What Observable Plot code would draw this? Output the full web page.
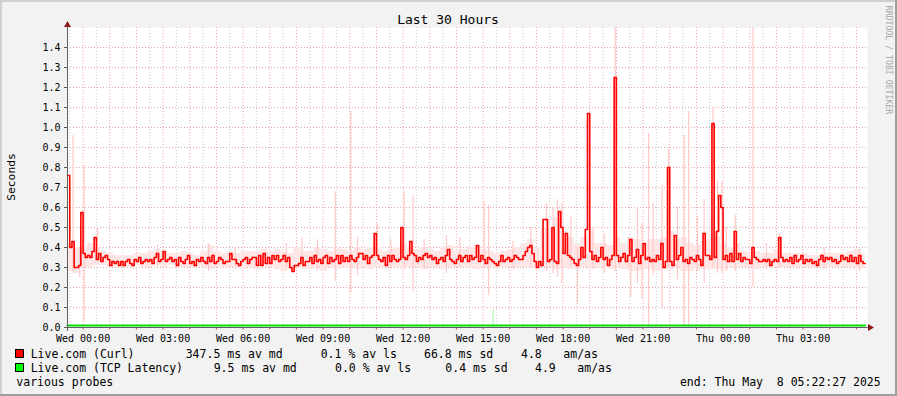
<!DOCTYPE html>
<html><head><meta charset="utf-8">
<script src="https://cdn.jsdelivr.net/npm/d3@7"></script>
<script src="https://cdn.jsdelivr.net/npm/@observablehq/plot@0.6"></script>
<style>
html,body{margin:0;padding:0;background:#f2f2f2;}
#chart{position:relative;width:897px;height:396px;overflow:hidden;}
</style></head><body><div id="chart"></div>
<script>
// ---------- text ----------
const title = "Last 30 Hours";
const yLabel = "Seconds";
const credit = "RRDTOOL / TOBI OETIKER";
const footLeft = "various probes";
const footRight = "end: Thu May  8 05:22:27 2025";

// ---------- legend ----------
const seriesNames = ["Live.com (Curl)", "Live.com (TCP Latency)"];
const seriesColors = ["#ff0000", "#00ff00"];
const statMedian = ["347.5 ms av md", "9.5 ms av md"];
const statLoss = ["0.1 % av ls", "0.0 % av ls"];
const statSd = ["66.8 ms sd", "0.4 ms sd"];
const statAmAs = ["4.8", "4.9"];

// ---------- axes ----------
const startUTC = "2025-05-06T23:25:00Z";
const endUTC = "2025-05-08T05:25:00Z";
const xTickTimes = ["2025-05-07T00:00:00Z","2025-05-07T03:00:00Z","2025-05-07T06:00:00Z","2025-05-07T09:00:00Z","2025-05-07T12:00:00Z","2025-05-07T15:00:00Z","2025-05-07T18:00:00Z","2025-05-07T21:00:00Z","2025-05-08T00:00:00Z","2025-05-08T03:00:00Z"];
const xTickLabels = ["Wed 00:00","Wed 03:00","Wed 06:00","Wed 09:00","Wed 12:00","Wed 15:00","Wed 18:00","Wed 21:00","Thu 00:00","Thu 03:00"];
const yTicks = [0.0,0.1,0.2,0.3,0.4,0.5,0.6,0.7,0.8,0.9,1.0,1.1,1.2,1.3,1.4];

// ---------- data: Live.com (Curl) median, seconds, one value per 5 minutes ----------
const curlMedian = [
0.76,0.40,0.43,0.30,0.30,0.31,0.575,0.37,0.35,0.36,0.35,0.38,
0.45,0.34,0.37,0.33,0.35,0.36,0.34,0.31,0.33,0.32,0.33,0.31,
0.33,0.31,0.33,0.34,0.32,0.31,0.34,0.33,0.35,0.32,0.33,0.34,
0.33,0.34,0.32,0.35,0.37,0.33,0.34,0.38,0.33,0.34,0.35,0.33,
0.34,0.31,0.35,0.33,0.32,0.34,0.36,0.32,0.33,0.31,0.34,0.33,
0.35,0.33,0.32,0.35,0.33,0.36,0.32,0.33,0.35,0.34,0.32,0.33,
0.33,0.37,0.34,0.34,0.32,0.31,0.33,0.34,0.35,0.32,0.34,0.35,
0.35,0.31,0.36,0.31,0.37,0.32,0.35,0.32,0.36,0.34,0.36,0.33,
0.34,0.36,0.33,0.35,0.30,0.28,0.31,0.31,0.32,0.35,0.31,0.33,
0.33,0.35,0.32,0.36,0.33,0.34,0.32,0.35,0.36,0.32,0.35,0.33,
0.34,0.36,0.32,0.36,0.33,0.35,0.33,0.36,0.34,0.33,0.35,0.37,
0.37,0.34,0.36,0.32,0.35,0.36,0.47,0.36,0.34,0.33,0.35,0.31,
0.36,0.33,0.36,0.34,0.33,0.34,0.50,0.35,0.34,0.36,0.43,0.37,
0.36,0.33,0.35,0.34,0.36,0.37,0.35,0.36,0.34,0.35,0.32,0.34,
0.35,0.33,0.36,0.39,0.34,0.33,0.32,0.34,0.36,0.33,0.35,0.36,
0.33,0.36,0.34,0.35,0.41,0.33,0.36,0.34,0.32,0.35,0.34,0.33,
0.32,0.31,0.33,0.36,0.33,0.34,0.35,0.33,0.34,0.36,0.35,0.34,
0.34,0.36,0.38,0.40,0.41,0.37,0.33,0.30,0.33,0.31,0.54,0.54,
0.33,0.34,0.50,0.33,0.32,0.58,0.50,0.37,0.47,0.36,0.35,0.34,
0.32,0.31,0.34,0.40,0.35,0.49,1.07,0.38,0.34,0.36,0.33,0.35,
0.40,0.34,0.35,0.31,0.34,0.36,1.25,0.36,0.33,0.35,0.37,0.33,
0.36,0.44,0.33,0.35,0.39,0.32,0.36,0.42,0.34,0.35,0.33,0.34,
0.33,0.36,0.34,0.42,0.30,0.33,0.80,0.33,0.31,0.46,0.34,0.36,
0.40,0.33,0.34,0.32,0.35,0.34,0.33,0.36,0.34,0.31,0.47,0.36,
0.36,0.34,1.02,0.35,0.48,0.66,0.60,0.34,0.36,0.33,0.37,0.33,
0.48,0.34,0.37,0.33,0.35,0.34,0.34,0.32,0.40,0.35,0.34,0.33,
0.33,0.34,0.33,0.34,0.31,0.33,0.34,0.33,0.45,0.35,0.33,0.34,
0.33,0.35,0.32,0.36,0.33,0.34,0.36,0.32,0.34,0.33,0.34,0.32,
0.33,0.31,0.34,0.36,0.33,0.35,0.34,0.35,0.33,0.34,0.32,0.33,
0.36,0.34,0.35,0.33,0.36,0.33,0.35,0.32,0.36,0.33,0.32
];

// smoke band (low / high ping), one value per 15 minutes
const smokeLo = [
0.28,0.27,0.30,0.30, 0.31,0.31,0.30,0.30, 0.30,0.30,0.31,0.30, 0.30,0.31,0.30,0.31,
0.30,0.30,0.30,0.30, 0.30,0.29,0.30,0.30, 0.30,0.30,0.29,0.30, 0.29,0.30,0.30,0.29,
0.28,0.29,0.30,0.29, 0.29,0.30,0.28,0.30, 0.29,0.30,0.30,0.29, 0.30,0.29,0.30,0.30,
0.30,0.30,0.29,0.30, 0.30,0.29,0.30,0.30, 0.29,0.30,0.30,0.30, 0.30,0.29,0.30,0.30,
0.29,0.30,0.30,0.30, 0.30,0.30,0.29,0.30, 0.30,0.29,0.30,0.29, 0.29,0.30,0.29,0.30,
0.30,0.29,0.30,0.29, 0.28,0.28,0.29,0.29, 0.28,0.29,0.29,0.30, 0.28,0.28,0.29,0.29,
0.29,0.29,0.29,0.30, 0.30,0.30,0.30,0.29, 0.30,0.30,0.30,0.30, 0.30,0.30,0.30,0.30,
0.30,0.30,0.30,0.30, 0.30,0.30,0.29,0.30
];
const smokeHi = [
0.42,0.40,0.40,0.42, 0.40,0.38,0.37,0.36, 0.36,0.36,0.37,0.37, 0.38,0.39,0.38,0.37,
0.37,0.38,0.37,0.36, 0.38,0.41,0.38,0.37, 0.38,0.37,0.38,0.38, 0.38,0.39,0.38,0.39,
0.38,0.37,0.40,0.38, 0.38,0.40,0.39,0.38, 0.40,0.39,0.38,0.40, 0.39,0.40,0.40,0.38,
0.39,0.40,0.42,0.40, 0.39,0.40,0.39,0.38, 0.40,0.41,0.38,0.39, 0.40,0.41,0.39,0.38,
0.37,0.38,0.39,0.40, 0.42,0.44,0.40,0.50, 0.50,0.55,0.48,0.45, 0.42,0.45,0.48,0.42,
0.42,0.41,0.45,0.42, 0.45,0.44,0.42,0.44, 0.44,0.45,0.48,0.44, 0.45,0.42,0.41,0.43,
0.44,0.45,0.42,0.40, 0.42,0.38,0.37,0.38, 0.37,0.37,0.39,0.37, 0.37,0.37,0.37,0.36,
0.36,0.37,0.37,0.37, 0.37,0.38,0.39,0.37
];
// individual tall smoke streaks: [5-minute step index, low, high]
const smokeSpikes = [
[2,0.27,0.96],[5,0.25,0.40],[7,0.03,0.81],[13,0.33,0.50],[40,0.30,0.41],[63,0.28,0.42],[75,0.29,0.40],
[98,0.30,0.42],[105,0.31,0.45],[112,0.28,0.44],[120,0.23,0.68],[127,0.17,1.08],[130,0.26,0.45],
[139,0.33,0.52],[145,0.29,0.44],[151,0.30,0.68],[155,0.18,0.66],[160,0.29,0.44],[170,0.27,0.46],
[176,0.30,0.45],[187,0.30,0.63],[189,0.16,0.61],[200,0.29,0.43],[208,0.30,0.50],[215,0.28,0.62],
[218,0.27,0.60],[220,0.25,0.64],[222,0.22,0.62],[226,0.30,0.55],[229,0.12,0.40],[236,0.29,0.50],
[241,0.27,0.47],[246,0.28,1.50],[252,0.30,0.45],[253,0.15,0.44],[256,0.22,0.60],[258,0.14,0.52],
[261,0.00,0.97],[263,0.26,0.62],[267,0.09,0.71],[270,0.30,0.89],[274,0.24,0.60],[277,0.00,0.96],
[279,0.00,1.08],[283,0.28,0.55],[286,0.22,0.64],[290,0.30,1.10],[292,0.27,0.73],[294,0.27,0.73],
[296,0.28,0.50],[300,0.28,0.56],[308,0.20,1.50],[314,0.29,0.42],[320,0.30,0.47],[340,0.29,0.40],[356,0.28,0.39]
];

// ---------- data: Live.com (TCP Latency) median, seconds, one value per hour ----------
const tcpMedian = [
0.0095,0.0096,0.0095,0.0094,0.0095,0.0095,0.0096,0.0095,0.0094,0.0095,
0.0095,0.0096,0.0095,0.0095,0.0094,0.0095,0.0096,0.0095,0.0095,0.0094,
0.0095,0.0095,0.0096,0.0095,0.0095,0.0094,0.0095,0.0095,0.0096,0.0095
];
const tcpSmokeSpikes = [[191,0.010,0.090]];

// ---------- build ----------
const t0 = new Date(startUTC);
const STEP = 5 * 60000;
const at = i => new Date(+t0 + i * STEP);
const curl = curlMedian.map((v, i) => ({t: at(i), v}));
curl.push({t: at(curlMedian.length), v: curlMedian[curlMedian.length - 1]});
const tcp = tcpMedian.map((v, h) => ({t: at(h * 12), v}));
tcp.push({t: at(curlMedian.length), v: tcpMedian[tcpMedian.length - 1]});
const band = smokeLo.map((lo, k) => ({t1: at(k * 3), t2: at(Math.min(k * 3 + 3, curlMedian.length)), lo, hi: smokeHi[k]}));
const spikes = smokeSpikes.map(([i, lo, hi]) => ({t: new Date(+at(i) + STEP / 2), lo, hi}));
const tcpSpikes = tcpSmokeSpikes.map(([i, lo, hi]) => ({t: new Date(+at(i) + STEP / 2), lo, hi}));
const xDomain = [t0, new Date(endUTC)];
const hours = d3.utcHour.range(xDomain[0], xDomain[1]);
const halfHours = d3.utcMinute.every(30).range(xDomain[0], xDomain[1]).filter(d => d.getUTCMinutes() === 30);
const tickDates = xTickTimes.map(s => new Date(s));
const labelMap = new Map(tickDates.map((d, i) => [+d, xTickLabels[i]]));

const FONT = "DejaVu Sans Mono";
const chart = Plot.plot({
  width: 897, height: 396,
  marginLeft: 67, marginRight: 30, marginTop: 27, marginBottom: 69,
  style: {background: "#f2f2f2", fontFamily: FONT, fontSize: "10px", color: "#000", overflow: "visible"},
  x: {type: "utc", domain: xDomain},
  y: {type: "linear", domain: [0, 1.5]},
  marks: [
    Plot.frame({fill: "white", stroke: null}),
    Plot.ruleX(halfHours, {stroke: "#c8c8c8", strokeDasharray: "1,2"}),
    Plot.ruleX(hours, {stroke: "#f29a9a", strokeDasharray: "1,2"}),
    Plot.ruleY(yTicks.slice(1), {stroke: "#e2a4a4", strokeDasharray: "1,2"}),
    Plot.rect(band, {x1: "t1", x2: "t2", y1: "lo", y2: "hi", fill: "#ffe6e6"}),
    Plot.ruleX(spikes, {x: "t", y1: "lo", y2: "hi", stroke: "#ffc8c8", strokeWidth: 1.2}),
    Plot.ruleX(tcpSpikes, {x: "t", y1: "lo", y2: "hi", stroke: "#b8f5b8", strokeWidth: 1.3}),
    Plot.line(curl, {x: "t", y: "v", curve: "step-after", stroke: "#ff0000", strokeWidth: 1.6}),
    Plot.line(tcp, {x: "t", y: "v", curve: "step-after", stroke: "#00e000", strokeWidth: 2}),
    Plot.ruleX(hours, {y1: 0, y2: -0.012, stroke: "#c04040"}),
    Plot.axisY(yTicks, {tickSize: 3, tickPadding: 4, tickFormat: d => d.toFixed(1), stroke: "#555"}),
    Plot.axisX(tickDates, {tickSize: 0, tickPadding: 7, tickFormat: d => labelMap.get(+d)})
  ]
});
document.getElementById("chart").appendChild(chart);

// ---------- decorations ----------
const svg = d3.select(chart);
const X0 = 67, X1 = 867, Y0 = 27, Y1 = 327;
svg.append("rect").attr("x", 0).attr("y", 0).attr("width", 897).attr("height", 2).attr("fill", "#cfcfcf");
svg.append("rect").attr("x", 0).attr("y", 0).attr("width", 2).attr("height", 396).attr("fill", "#cfcfcf");
svg.append("rect").attr("x", 0).attr("y", 394).attr("width", 897).attr("height", 2).attr("fill", "#9e9e9e");
svg.append("rect").attr("x", 895).attr("y", 0).attr("width", 2).attr("height", 396).attr("fill", "#9e9e9e");
svg.append("line").attr("x1", X0 + 0.5).attr("x2", X0 + 0.5).attr("y1", 24).attr("y2", Y1 + 4).attr("stroke", "#606060");
svg.append("line").attr("x1", X0 - 3).attr("x2", X1 + 4).attr("y1", Y1 + 0.5).attr("y2", Y1 + 0.5).attr("stroke", "#606060");
svg.append("path").attr("d", `M${X0 + 0.5},21 L${X0 - 3},27 L${X0 + 4},27 Z`).attr("fill", "#8b1a1a");
svg.append("path").attr("d", `M${X1 + 7},${Y1 + 0.5} L${X1 + 1},${Y1 - 3} L${X1 + 1},${Y1 + 4} Z`).attr("fill", "#8b1a1a");

const txt = (x, y, s, size, opts = {}) => {
  const t = svg.append("text").attr("x", x).attr("y", y).text(s)
    .attr("font-family", FONT).attr("font-size", size).attr("fill", opts.fill || "#000")
    .attr("text-anchor", opts.anchor || "start").attr("xml:space", "preserve");
  if (opts.transform) t.attr("transform", opts.transform);
  return t;
};
txt(448, 23.5, title, 13, {anchor: "middle"});
txt(0, 0, yLabel, 11.3, {anchor: "middle", transform: "translate(15,177) rotate(-90)"});
txt(0, 0, credit, 8.2, {anchor: "middle", fill: "#a8a8a8", transform: "translate(885.5,60) rotate(90)"});

const rowY = [358, 372];
const cols = [[30.7], [185.7, 213.7], [320.7, 335], [424, 445.3], [521, 535], [563.3, 577.3]];
seriesNames.forEach((name, k) => {
  svg.append("rect").attr("x", 15.5).attr("y", rowY[k] - 8.5).attr("width", 8).attr("height", 8)
    .attr("fill", seriesColors[k]).attr("stroke", "#000").attr("stroke-width", 1);
  txt(30.7, rowY[k], name, 11.5);
  txt(cols[1][k], rowY[k], statMedian[k], 11.5);
  txt(cols[2][k], rowY[k], statLoss[k], 11.5);
  txt(cols[3][k], rowY[k], statSd[k], 11.5);
  txt(cols[4][k], rowY[k], statAmAs[k], 11.5);
  txt(cols[5][k], rowY[k], "am/as", 11.5);
});
txt(16.3, 386, footLeft, 11.5);
txt(880.7, 386, footRight, 11.5, {anchor: "end"});
</script></body></html>
